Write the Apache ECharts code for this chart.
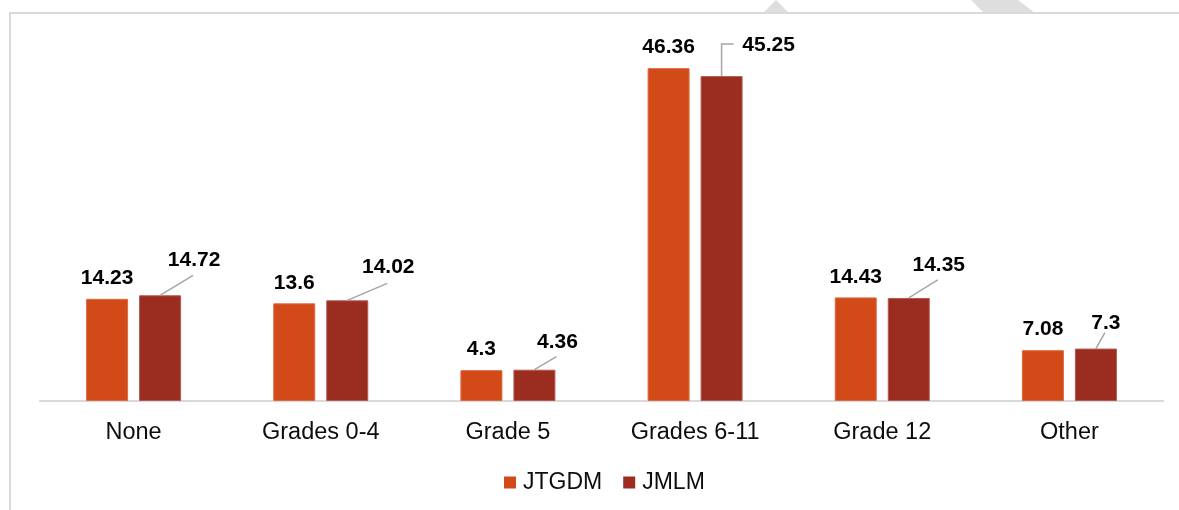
<!DOCTYPE html>
<html>
<head>
<meta charset="utf-8">
<title>Education level: JTGDM vs JMLM</title>
<script src="https://cdn.jsdelivr.net/npm/echarts@6/dist/echarts.min.js"></script>
<style>
  html, body { margin: 0; padding: 0; background: #ffffff; }
  #chart { width: 1179px; height: 510px; }
</style>
</head>
<body>
<div id="chart"></div>
<script>
// Education level categories and the two series' shares
const categories = ['None', 'Grades 0-4', 'Grade 5', 'Grades 6-11', 'Grade 12', 'Other'];
const jtgdmValues = [14.23, 13.6, 4.3, 46.36, 14.43, 7.08];
const jmlmValues = [14.72, 14.02, 4.36, 45.25, 14.35, 7.3];
const seriesNames = ['JTGDM', 'JMLM'];

// Placement of the JMLM callout labels, relative to the top centre of each bar (px)
const calloutOffsets = [[34, -35], [41, -33], [23, -27], [47, -31], [30, -33], [10, -25]];
// Distance from label centre down to the end of its leader line; null = elbow connector
const calloutLineGap = [15, 16, 14, null, 15, 9];

const FONT = '"Liberation Sans", Arial, sans-serif';
const BAR_WIDTH = 42;
const BAR_GAP_PX = 11;
const SECOND_BAR_SHIFT = (BAR_WIDTH + BAR_GAP_PX) / 2;

const chart = echarts.init(document.getElementById('chart'), null, { renderer: 'canvas' });

const calloutData = jmlmValues.map((v, i) => [i, v]);

const option = {
  backgroundColor: '#ffffff',
  animation: false,
  textStyle: { fontFamily: FONT },
  graphic: [
    // faint diagonal stripes peeking above the frame
    { type: 'polygon', silent: true, z: -10, shape: { points: [[763, 13], [776, 0], [789, 13]] }, style: { fill: '#dedede' } },
    { type: 'polygon', silent: true, z: -10, shape: { points: [[971, 0], [1018, 0], [1035, 13], [984, 13]] }, style: { fill: '#dedede' } },
    // chart frame
    { type: 'rect', silent: true, z: -5, shape: { x: 10, y: 13, width: 1300, height: 600 }, style: { fill: '#ffffff', stroke: '#d9d9d9', lineWidth: 2 } }
  ],
  legend: {
    data: seriesNames,
    left: 504,
    top: 471,
    padding: 0,
    itemWidth: 12,
    itemHeight: 12,
    itemGap: 21,
    icon: 'rect',
    itemStyle: { borderWidth: 0 },
    textStyle: { fontFamily: FONT, fontSize: 23, color: '#0d0d0d', lineHeight: 23, padding: [0, 0, 0, 2] }
  },
  grid: { left: 40, right: 16, top: 42, bottom: 109, containLabel: false },
  xAxis: {
    type: 'category',
    data: categories,
    axisTick: { show: false },
    axisLine: { show: true, lineStyle: { color: '#d9d9d9', width: 2 } },
    axisLabel: { fontFamily: FONT, fontSize: 23.5, color: '#0d0d0d', margin: 20, interval: 0 },
    splitLine: { show: false }
  },
  yAxis: {
    type: 'value',
    min: 0,
    max: 50,
    show: false,
    splitLine: { show: false }
  },
  series: [
    {
      name: seriesNames[0],
      type: 'bar',
      data: jtgdmValues,
      barWidth: BAR_WIDTH,
      barGap: (BAR_GAP_PX / BAR_WIDTH * 100).toFixed(1) + '%',
      itemStyle: { color: '#d24a18', borderColor: '#de6a44', borderWidth: 1 },
      label: {
        show: true,
        position: 'top',
        distance: 10,
        fontFamily: FONT,
        fontSize: 21,
        fontWeight: 'bold',
        color: '#000000'
      }
    },
    {
      name: seriesNames[1],
      type: 'bar',
      data: jmlmValues,
      barWidth: BAR_WIDTH,
      itemStyle: { color: '#9a2c20', borderColor: '#b5584d', borderWidth: 1 }
    },
    {
      // callout labels with leader lines for the JMLM bars
      name: 'JMLM labels',
      type: 'custom',
      data: calloutData,
      encode: { x: 0, y: 1 },
      z: 5,
      silent: true,
      renderItem: function (params, api) {
        const i = params.dataIndex;
        const value = api.value(1);
        const top = api.coord([api.value(0), value]);
        const bx = top[0] + SECOND_BAR_SHIFT;
        const by = top[1];
        const off = calloutOffsets[i];
        const lx = bx + off[0];
        const ly = by + off[1];
        const gap = calloutLineGap[i];
        let points;
        if (gap === null) {
          points = [[bx, by], [bx, ly - 1], [lx - 35, ly - 1]];
        } else {
          points = [[bx, by], [lx - 1, ly + gap]];
        }
        return {
          type: 'group',
          children: [
            {
              type: 'polyline',
              shape: { points: points },
              style: { stroke: '#a6a6a6', lineWidth: 1.5, fill: null }
            },
            {
              type: 'text',
              style: {
                x: lx,
                y: ly,
                text: String(jmlmValues[i]),
                align: 'center',
                verticalAlign: 'middle',
                font: 'bold 21px ' + FONT,
                fill: '#000000'
              }
            }
          ]
        };
      }
    }
  ]
};

chart.setOption(option);
</script>
</body>
</html>
